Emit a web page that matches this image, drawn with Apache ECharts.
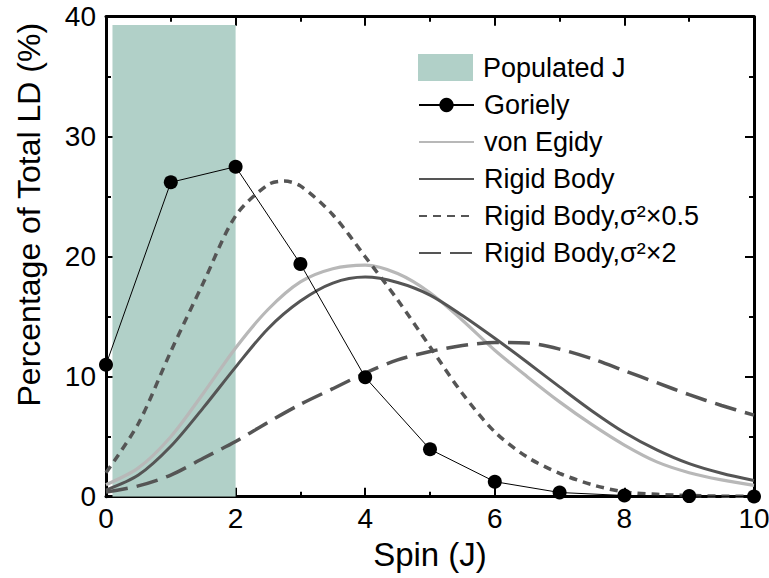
<!DOCTYPE html>
<html>
<head>
<meta charset="utf-8">
<script src="https://cdn.jsdelivr.net/npm/echarts@6/dist/echarts.min.js"></script>
<style>
html,body{margin:0;padding:0;background:#fff;}
#chart{width:769px;height:578px;}
</style>
</head>
<body>
<div id="chart"></div>
<script>
// ---- data ----
const gorielyJ      = [0, 1, 2, 3, 4, 5, 6, 7, 8, 9, 10];
const gorielyPct    = [11.0, 26.2, 27.5, 19.4, 9.95, 3.95, 1.25, 0.35, 0.1, 0.05, 0.02];

const curveJ        = [0, 0.5, 1, 1.5, 2, 2.5, 3, 3.5, 4, 4.5, 5, 5.5, 6, 6.5, 7, 7.5, 8, 8.5, 9, 9.5, 10];
const vonEgidyPct   = [1.0, 2.4, 5.0, 8.6, 12.4, 15.6, 17.9, 19.0, 19.3, 18.6, 17.0, 14.7, 12.2, 10.0, 7.9, 6.0, 4.3, 2.9, 2.0, 1.4, 0.95];
const rigidPct      = [0.55, 1.8, 4.2, 7.4, 10.8, 14.0, 16.3, 17.8, 18.3, 17.85, 16.8, 15.1, 13.2, 11.2, 9.15, 7.15, 5.35, 3.9, 2.75, 1.95, 1.35];
const rigidHalfJ    = [0, 0.5, 1, 1.5, 2, 2.5, 2.75, 3, 3.5, 4, 4.5, 5, 5.5, 6, 6.5, 7, 7.5, 8, 8.5, 9, 9.5, 10];
const rigidHalfPct  = [2.0, 6.1, 12.1, 17.8, 23.4, 26.0, 26.3, 25.9, 23.5, 20.0, 16.4, 12.5, 8.6, 5.4, 3.3, 1.95, 1.0, 0.4, 0.2, 0.1, 0.05, 0.02];
const rigidDoublePct= [0.4, 0.9, 1.8, 3.2, 4.6, 6.2, 7.7, 9.0, 10.3, 11.4, 12.1, 12.6, 12.85, 12.8, 12.3, 11.5, 10.5, 9.5, 8.5, 7.6, 6.8];

const populatedJ    = [0.1, 2];     // J range of populated states
const populatedTop  = 39.3;

const xTicks = { min: 0, max: 10, step: 2 };
const yTicks = { min: 0, max: 40, step: 10 };

const seriesNames = ['Populated J', 'Goriely', 'von Egidy', 'Rigid Body', 'Rigid Body,σ²×0.5', 'Rigid Body,σ²×2'];
// ---------------------------------------------

function pairs(xs, ys) { return xs.map((x, i) => [x, ys[i]]); }

const FONT = "'Liberation Sans', Arial, sans-serif";
const black = '#000';
const dark = '#555555';
const light = '#b8b8b8';
const teal = '#b1d0c8';

function xAxisDef(pos, showLabel) {
  return {
    type: 'value', position: pos, min: xTicks.min, max: xTicks.max, interval: xTicks.step,
    axisLine: { show: true, onZero: false, lineStyle: { color: black, width: 3 } },
    axisTick: { show: true, inside: true, length: 9, lineStyle: { color: black, width: 2 } },
    minorTick: { show: true, splitNumber: 2, length: 5, lineStyle: { color: black, width: 2 } },
    splitLine: { show: false }, minorSplitLine: { show: false },
    axisLabel: { show: showLabel, color: black, fontSize: 28, fontFamily: FONT, margin: 8 },
    name: showLabel ? 'Spin (J)' : '', nameLocation: 'middle', nameGap: 37,
    nameTextStyle: { color: black, fontSize: 33, fontFamily: FONT }
  };
}
function yAxisDef(pos, showLabel) {
  return {
    type: 'value', position: pos, min: yTicks.min, max: yTicks.max, interval: yTicks.step,
    axisLine: { show: true, onZero: false, lineStyle: { color: black, width: 3 } },
    axisTick: { show: true, inside: true, length: 9, lineStyle: { color: black, width: 2 } },
    minorTick: { show: true, splitNumber: 2, length: 5, lineStyle: { color: black, width: 2 } },
    splitLine: { show: false }, minorSplitLine: { show: false },
    axisLabel: { show: showLabel, color: black, fontSize: 28, fontFamily: FONT, margin: 10 },
    name: showLabel ? 'Percentage of Total LD (%)' : '', nameLocation: 'middle', nameRotate: 90, nameGap: 61,
    nameTextStyle: { color: black, fontSize: 32, fontFamily: FONT, padding: [0, 0, 0, 84] }
  };
}

const hideSym = { color: 'rgba(0,0,0,0)', borderColor: 'rgba(0,0,0,0)', borderWidth: 0, opacity: 0 };

const option = {
  backgroundColor: '#fff',
  animation: false,
  grid: { left: 106, right: 15, top: 16.7, bottom: 81.3, containLabel: false, outerBoundsMode: 'none' },
  xAxis: [xAxisDef('bottom', true), xAxisDef('top', false)],
  yAxis: [yAxisDef('left', true), yAxisDef('right', false)],
  legend: [
    {
      orient: 'vertical', left: 418, top: 54, padding: 0,
      itemWidth: 55, itemHeight: 27,
      textStyle: { color: black, fontSize: 27, fontFamily: FONT, padding: [0, 0, 0, 5] },
      data: [{ name: seriesNames[0], icon: 'rect' }]
    },
    {
      orient: 'vertical', left: 418, top: 91.5, padding: 0,
      itemWidth: 55, itemHeight: 18, itemGap: 10,
      textStyle: { color: black, fontSize: 27, fontFamily: FONT, padding: [0, 0, 0, 5] },
      data: [
        { name: seriesNames[1] },
        { name: seriesNames[2], itemStyle: hideSym },
        { name: seriesNames[3], itemStyle: hideSym },
        { name: seriesNames[4], itemStyle: hideSym },
        { name: seriesNames[5], itemStyle: hideSym }
      ]
    }
  ],
  series: [
    {
      name: seriesNames[0], type: 'line', xAxisIndex: 0, yAxisIndex: 0,
      data: populatedJ.map(j => [j, populatedTop]),
      symbol: 'none', z: 1,
      itemStyle: { color: teal },
      lineStyle: { width: 0, color: teal },
      areaStyle: { color: teal, opacity: 1 }
    },
    {
      name: seriesNames[2], type: 'line', data: pairs(curveJ, vonEgidyPct),
      symbol: 'none', smooth: 0.3, z: 3,
      itemStyle: { color: light },
      lineStyle: { color: light, width: 3.2 }
    },
    {
      name: seriesNames[3], type: 'line', data: pairs(curveJ, rigidPct),
      symbol: 'none', smooth: 0.3, z: 4,
      itemStyle: { color: dark },
      lineStyle: { color: dark, width: 3 }
    },
    {
      name: seriesNames[4], type: 'line', data: pairs(rigidHalfJ, rigidHalfPct),
      symbol: 'none', smooth: 0.3, z: 4,
      itemStyle: { color: dark },
      lineStyle: { color: dark, width: 3.5, type: [8, 6] }
    },
    {
      name: seriesNames[5], type: 'line', data: pairs(curveJ, rigidDoublePct),
      symbol: 'none', smooth: 0.3, z: 4,
      itemStyle: { color: dark },
      lineStyle: { color: dark, width: 3.5, type: [22, 9] }
    },
    {
      name: seriesNames[1], type: 'line', data: pairs(gorielyJ, gorielyPct),
      symbol: 'circle', symbolSize: 14, clip: false, z: 6,
      itemStyle: { color: black },
      lineStyle: { color: black, width: 1 }
    }
  ]
};

const chart = echarts.init(document.getElementById('chart'), null, { renderer: 'svg' });
chart.setOption(option);
</script>
</body>
</html>
